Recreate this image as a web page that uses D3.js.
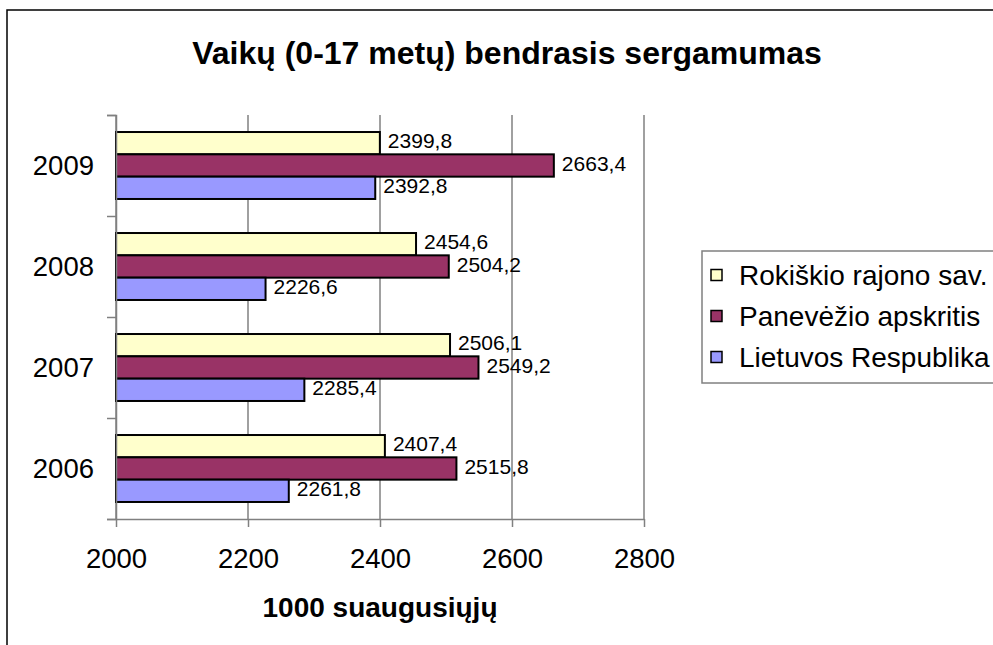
<!DOCTYPE html>
<html>
<head>
<meta charset="utf-8">
<script src="https://cdn.jsdelivr.net/npm/d3@7"></script>
<style>
  body { margin: 0; background: #fff; }
  text { font-family: "Liberation Sans", Arial, sans-serif; fill: #000; }
</style>
</head>
<body>
<script>
// chart data
const years = ["2006", "2007", "2008", "2009"];
const seriesNames = ["Rokiškio rajono sav.", "Panevėžio apskritis", "Lietuvos Respublika"];
const rokiskis = [2407.4, 2506.1, 2454.6, 2399.8];
const panevezys = [2515.8, 2549.2, 2504.2, 2663.4];
const lietuva = [2261.8, 2285.4, 2226.6, 2392.8];
const xTicks = [2000, 2200, 2400, 2600, 2800];
const colors = ["#FFFFCC", "#993366", "#9999FF"];

const width = 993, height = 645;
const margin = {top: 115, right: 349, bottom: 126, left: 116};

const svg = d3.select("body").append("svg")
    .attr("width", width)
    .attr("height", height);

// outer chart frame (runs past the window edges)
svg.append("rect")
    .attr("x", 7).attr("y", 10)
    .attr("width", 1100).attr("height", 800)
    .attr("fill", "none").attr("stroke", "#000").attr("stroke-width", 1.5);

svg.append("text")
    .attr("x", 507).attr("y", 64)
    .attr("text-anchor", "middle")
    .attr("font-weight", "bold")
    .attr("font-size", 32)
    .text("Vaikų (0-17 metų) bendrasis sergamumas");

const x = d3.scaleLinear()
    .domain([2000, 2800])
    .range([margin.left, width - margin.right]);

const y = d3.scaleBand()
    .domain(years.slice().reverse())
    .range([margin.top, height - margin.bottom])
    .paddingInner(0.337)
    .paddingOuter(0.337 / 2);

const ySub = d3.scaleBand()
    .domain(d3.range(seriesNames.length))
    .range([0, y.bandwidth()]);

// gridlines
svg.append("g").selectAll("line")
    .data(xTicks)
    .enter().append("line")
    .attr("x1", d => x(d)).attr("x2", d => x(d))
    .attr("y1", margin.top).attr("y2", height - margin.bottom)
    .attr("stroke", "#808080").attr("stroke-width", 1.5);

// bars
const values = [rokiskis, panevezys, lietuva];
const rows = [];
values.forEach((vals, s) => {
    vals.forEach((v, i) => rows.push({year: years[i], s: s, v: v}));
});

svg.append("g").selectAll("rect")
    .data(rows)
    .enter().append("rect")
    .attr("x", x(2000))
    .attr("y", d => y(d.year) + ySub(d.s))
    .attr("width", d => x(d.v) - x(2000))
    .attr("height", ySub.bandwidth())
    .attr("fill", d => colors[d.s])
    .attr("stroke", "#000")
    .attr("stroke-width", 2);

svg.append("g").selectAll("text")
    .data(rows)
    .enter().append("text")
    .attr("x", d => x(d.v) + 8)
    .attr("y", d => y(d.year) + ySub(d.s) + ySub.bandwidth() / 2 + 5)
    .attr("font-size", 21)
    .text(d => d.v.toFixed(1).replace(".", ","));

// y axis: ticks on category boundaries
const yEdge = d3.scaleLinear()
    .domain([0, years.length])
    .range([height - margin.bottom, margin.top]);

const yAxis = svg.append("g")
    .attr("transform", `translate(${margin.left},0)`)
    .call(d3.axisLeft(yEdge).ticks(years.length).tickSize(9).tickFormat(""));
yAxis.selectAll("path, line").attr("stroke", "#808080").attr("stroke-width", 1.5);

svg.append("g").selectAll("text")
    .data(years)
    .enter().append("text")
    .attr("x", 94)
    .attr("y", d => y(d) + y.bandwidth() / 2)
    .attr("dy", "0.33em")
    .attr("text-anchor", "end")
    .attr("font-size", 27.5)
    .text(d => d);

// x axis
const xAxis = svg.append("g")
    .attr("transform", `translate(0,${height - margin.bottom})`)
    .call(d3.axisBottom(x).tickValues(xTicks).tickFormat(d3.format("d"))
        .tickSize(8).tickPadding(21).tickSizeOuter(0));
xAxis.selectAll("path, line").attr("stroke", "#808080").attr("stroke-width", 1.5);
xAxis.selectAll("text")
    .attr("font-size", 27.5)
    .attr("font-family", "Liberation Sans, Arial, sans-serif")
    .attr("fill", "#000");

svg.append("text")
    .attr("x", (x(2000) + x(2800)) / 2).attr("y", 617)
    .attr("text-anchor", "middle")
    .attr("font-weight", "bold")
    .attr("font-size", 28)
    .text("1000 suaugusiųjų");

// legend
const legend = svg.append("g");
legend.append("rect")
    .attr("x", 702).attr("y", 251)
    .attr("width", 400).attr("height", 132)
    .attr("fill", "#fff").attr("stroke", "#808080").attr("stroke-width", 1.5);

const items = legend.selectAll("g.item")
    .data(seriesNames)
    .enter().append("g")
    .attr("transform", (d, i) => `translate(711,${275 + i * 41})`);

items.append("rect")
    .attr("x", 0).attr("y", -5.5)
    .attr("width", 11).attr("height", 11)
    .attr("fill", (d, i) => colors[i])
    .attr("stroke", "#000").attr("stroke-width", 1.5);

items.append("text")
    .attr("x", 28).attr("dy", "0.36em")
    .attr("font-size", 28)
    .text(d => d);
</script>
</body>
</html>
